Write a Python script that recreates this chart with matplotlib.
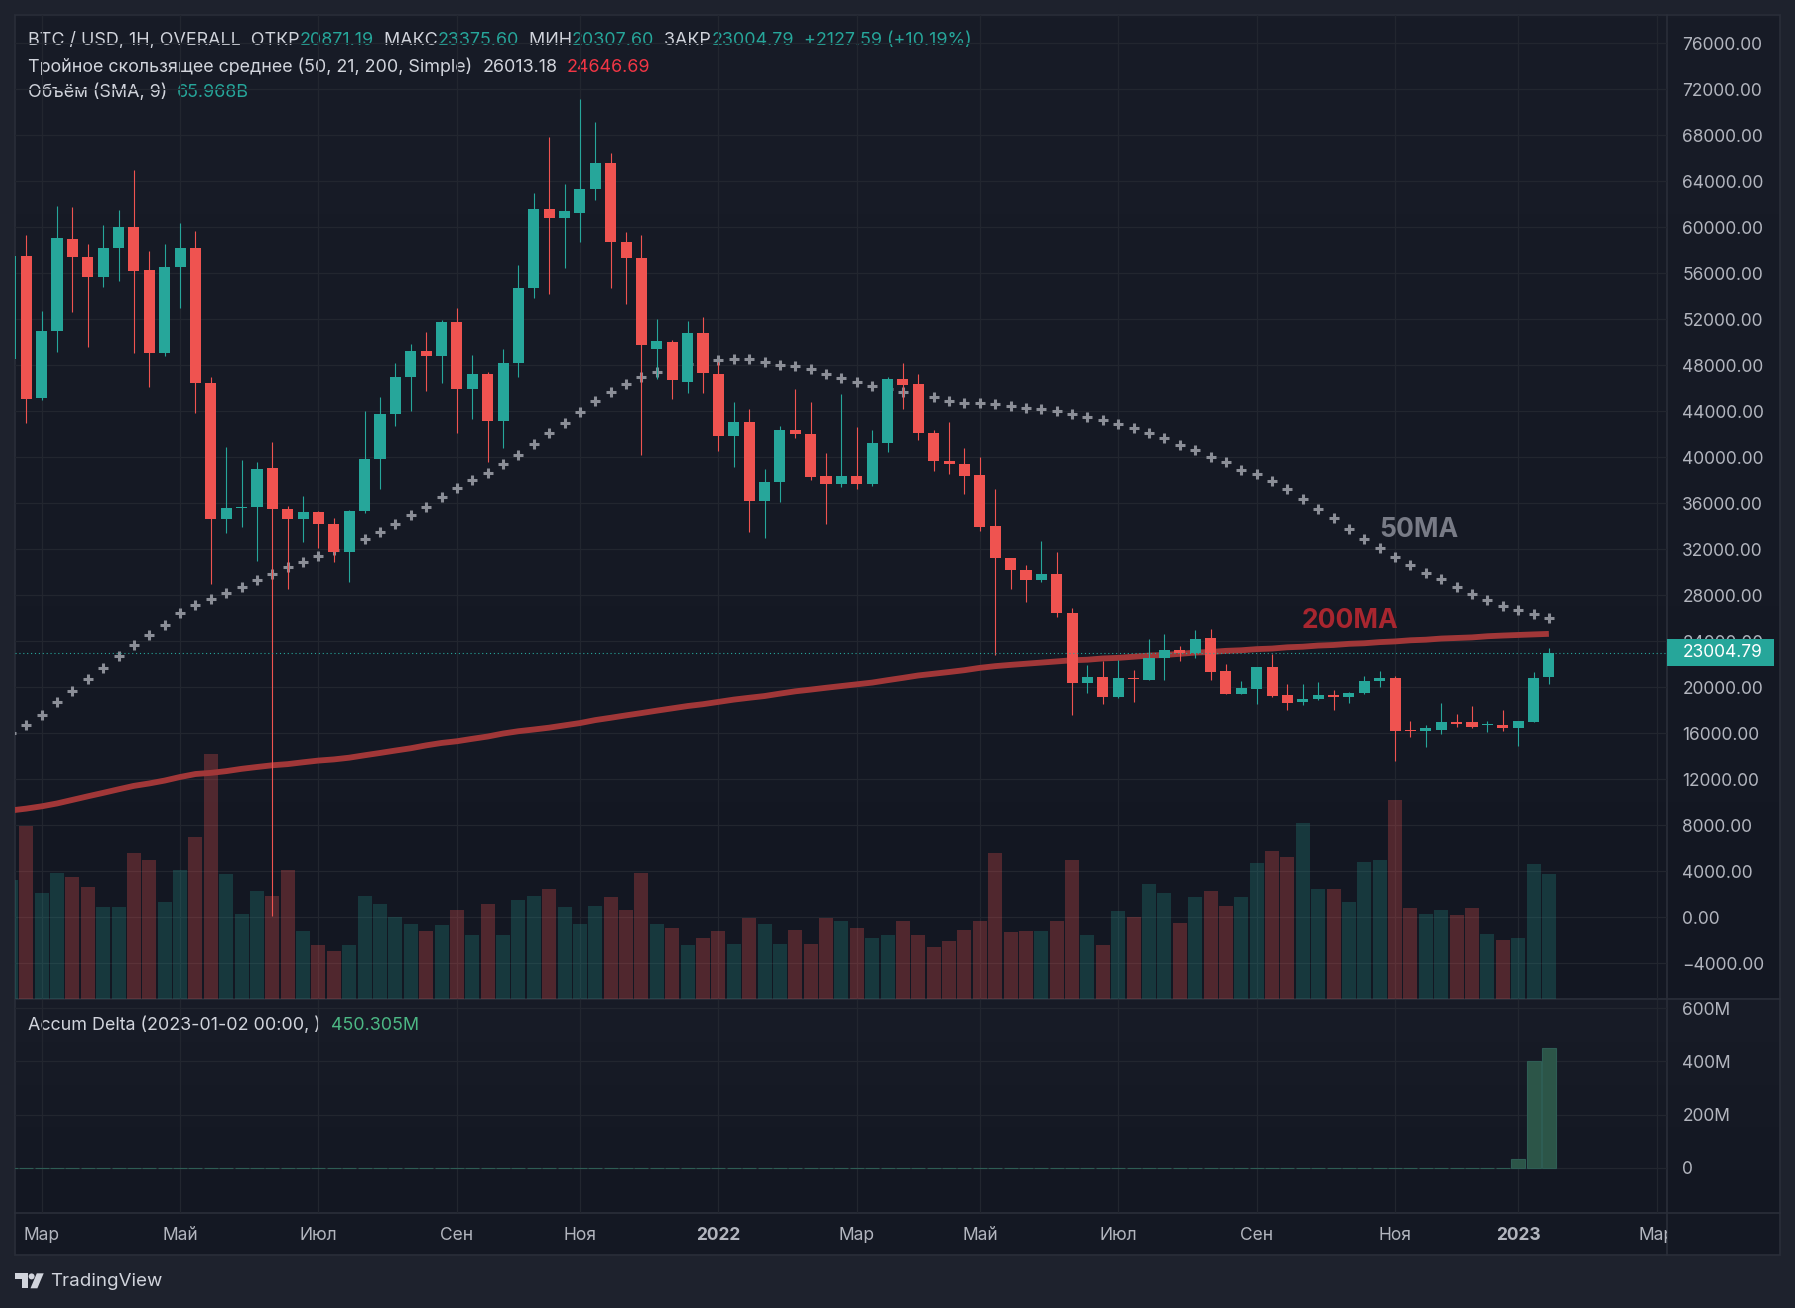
import numpy as np
import matplotlib
matplotlib.use("Agg")
import matplotlib.pyplot as plt
import matplotlib.transforms as mtrans
from matplotlib.colors import LinearSegmentedColormap
from matplotlib.patches import Rectangle, Polygon, Circle

plt.rcParams["font.family"] = ["Inter", "DejaVu Sans"]

W, H = 1795, 1308   # output size in pixels

# ---- data (weekly candles, BTC/USD overall index) ----
start = np.datetime64("2021-02-15")

opens = [48580, 57510, 45150, 50980, 58990, 57400, 55720, 58220, 60010, 56280,
         49040, 56540, 58220, 46440, 34650, 35610, 35720, 39090, 35520, 34600,
         35260, 34190, 31740, 35310, 39850, 43780, 46950, 49240, 48780, 51790,
         45980, 47250, 43120, 48220, 54700, 61590, 60820, 61230, 63320, 65620,
         58680, 57350, 49390, 50010, 46590, 50820, 47250, 41840, 43070, 36180,
         37810, 42350, 42050, 38370, 37660, 38370, 37710, 41230, 46790, 46380,
         42100, 39700, 39450, 38480, 34040, 31230, 30210, 29340, 29850, 26490,
         20360, 20920, 19140, 20770, 20620, 22510, 23270, 22970, 24290, 21440,
         19450, 19850, 21790, 19340, 18680, 18940, 19340, 19140, 19500, 20520,
         20820, 16230, 16180, 16330, 17000, 17000, 16740, 16740, 16470, 17000,
         20871.19]
highs = [58300, 59340, 52710, 61840, 61790, 58530, 60210, 61490, 65010, 57970,
         58580, 60360, 59650, 46950, 40920, 39750, 39550, 41330, 35770, 36640,
         35300, 34700, 35420, 44040, 45260, 48220, 49850, 50920, 51950, 52970,
         48880, 47400, 49450, 56690, 62970, 67860, 63780, 71180, 69140, 66490,
         59600, 59340, 52050, 50210, 51840, 52200, 48320, 44800, 44190, 38990,
         42710, 45930, 44800, 40360, 45520, 42660, 42400, 47000, 48220, 47250,
         42400, 43070, 40820, 40010, 37250, 31250, 30670, 32710, 31790, 26890,
         21950, 22300, 22400, 21540, 24180, 24600, 23580, 25010, 25110, 22050,
         20520, 21800, 22910, 20260, 20260, 20470, 19800, 19600, 20980, 21440,
         20980, 17100, 16740, 18630, 17660, 18370, 17100, 18020, 17100, 21340,
         23375.60]
lows = [46900, 43020, 45000, 49190, 52610, 49550, 54850, 55360, 49040, 46080,
        48830, 52970, 43830, 28940, 33430, 33940, 30980, 110, 28580, 32660,
        32150, 30930, 29190, 35160, 37250, 42760, 43990, 45770, 46490, 42100,
        43370, 39550, 40770, 46950, 53880, 54190, 56490, 58680, 62350, 54700,
        53320, 40160, 46790, 45060, 45570, 45570, 40520, 39190, 33480, 32970,
        36080, 41640, 38020, 34240, 37460, 37250, 37510, 40470, 44240, 41540,
        38780, 38530, 36790, 33580, 22810, 28580, 27400, 29190, 26080, 17560,
        19500, 18580, 19040, 18730, 20600, 20670, 22300, 22560, 20670, 19420,
        19420, 18530, 19140, 18070, 18420, 18900, 18020, 18630, 19400, 20060,
        13580, 15720, 14850, 15930, 16590, 16500, 16130, 16180, 14930, 17000,
        20307.60]
closes = [57510, 45110, 50980, 59090, 57400, 55720, 58220, 60010, 56180, 49040,
          56590, 58220, 46440, 34600, 35620, 35720, 38990, 35520, 34600, 35260,
          34190, 31740, 35310, 39850, 43780, 47000, 49240, 48780, 51790, 45980,
          47250, 43120, 48220, 54700, 61590, 60820, 61440, 63320, 65620, 58680,
          57300, 49800, 50110, 46690, 50820, 47300, 41840, 43070, 36180, 37860,
          42350, 42000, 38270, 37660, 38370, 37710, 41230, 46790, 46330, 42100,
          39650, 39390, 38370, 33940, 31230, 30160, 29340, 29850, 26490, 20360,
          20920, 19140, 20770, 20700, 22560, 23270, 22970, 24190, 21330, 19450,
          19960, 21790, 19240, 18630, 18990, 19340, 19140, 19500, 20570, 20820,
          16230, 16180, 16440, 17000, 16840, 16540, 16840, 16490, 17080, 20810,
          23004.79]
volume_b = [89.4, 130.1, 79.7, 94.8, 91.2, 84.2, 69.2, 68.7, 109.4, 104.0,
            72.3, 96.5, 121.3, 184.4, 93.9, 63.8, 81.1, 77.5, 97.0, 51.0,
            40.4, 35.6, 40.4, 77.5, 70.9, 61.7, 56.3, 50.6, 55.0, 66.9,
            48.0, 71.4, 48.0, 74.5, 77.5, 82.1, 69.2, 56.3, 70.0, 76.2,
            66.9, 94.8, 56.3, 52.8, 40.4, 45.3, 50.6, 41.3, 60.3, 56.3,
            41.3, 51.9, 41.3, 60.3, 58.6, 53.2, 45.8, 48.0, 58.1, 48.0,
            39.1, 43.5, 51.9, 58.6, 109.4, 49.7, 50.6, 50.6, 58.1, 104.5,
            47.5, 40.0, 65.6, 61.7, 86.0, 79.7, 57.2, 76.2, 81.1, 70.0,
            76.2, 102.3, 110.7, 106.7, 132.3, 82.1, 82.1, 72.3, 103.1, 104.0,
            149.1, 67.8, 63.4, 66.9, 62.5, 67.8, 48.9, 44.4, 45.3, 100.9,
            93.61]
ma50 = [16030, 16690, 17560, 18680, 19650, 20720, 21690, 22710, 23680, 24550,
        25420, 26440, 27150, 27660, 28170, 28730, 29290, 29850, 30420, 30870,
        31380, 31950, 32410, 32920, 33480, 34190, 34960, 35720, 36540, 37300,
        38020, 38630, 39390, 40160, 41130, 42100, 42970, 43930, 44900, 45670,
        46380, 47000, 47460, 47810, 48120, 48320, 48420, 48530, 48530, 48270,
        48020, 47910, 47660, 47250, 46890, 46540, 46180, 45930, 45670, 45410,
        45260, 44900, 44700, 44700, 44650, 44450, 44290, 44190, 43990, 43730,
        43480, 43220, 42860, 42510, 42100, 41690, 41080, 40620, 40010, 39550,
        38940, 38530, 37910, 37250, 36380, 35520, 34750, 33780, 32920, 32100,
        31330, 30620, 29910, 29400, 28730, 28120, 27610, 27050, 26740, 26390,
        26013.18]
ma200 = [9290, 9450, 9650, 9900, 10210, 10520, 10820, 11130, 11430, 11640,
         11890, 12200, 12460, 12560, 12710, 12910, 13070, 13220, 13320, 13480,
         13630, 13730, 13880, 14090, 14290, 14500, 14700, 14950, 15160, 15310,
         15520, 15720, 15980, 16180, 16330, 16490, 16690, 16890, 17150, 17350,
         17560, 17760, 17970, 18170, 18370, 18530, 18730, 18930, 19090, 19240,
         19450, 19650, 19800, 19960, 20110, 20260, 20410, 20620, 20820, 21030,
         21180, 21330, 21490, 21690, 21840, 21950, 22050, 22150, 22250, 22350,
         22400, 22510, 22560, 22660, 22760, 22810, 22910, 23020, 23070, 23170,
         23220, 23320, 23370, 23480, 23530, 23630, 23680, 23780, 23830, 23930,
         23990, 24090, 24140, 24240, 24290, 24340, 24440, 24500, 24550, 24600,
         24646.69]
accum_delta_m = [0.0] * 98 + [33.0, 400.0, 450.305]
change_abs, change_pct = 2127.59, 10.19   # vs. previous close, as shown in the legend

month_names = {3: "Мар", 5: "Май", 7: "Июл", 9: "Сен", 11: "Ноя"}
price_ticks = list(range(-4000, 76001, 4000))
delta_ticks = [0, 200, 400, 600]
delta_tick_labels = ["0", "200M", "400M", "600M"]

# ---- style ----
UP, DN = "#26a69a", "#ef5350"
TXT, AX_TXT = "#d1d4dc", "#b2b5be"
GRID, SEP = "#22262f", "#2a2e39"
OUTER = "#1e222d"
VOL_TOP = 740.4          # volume units filling the whole price pane height
N_FUTURE = 108

opens, highs, lows, closes = map(np.array, (opens, highs, lows, closes))
n = len(closes)
idx = np.arange(n)
up = closes >= opens

fig = plt.figure(figsize=(W / 100, H / 100), dpi=100)
fig.patch.set_facecolor(OUTER)


def rect(x0, y0, x1, y1):
    return [x0 / W, 1 - y1 / H, (x1 - x0) / W, (y1 - y0) / H]


# background / frame
bg = fig.add_axes([0, 0, 1, 1], zorder=-5)
bg.axis("off")
grad = np.linspace(0, 1, 256).reshape(-1, 1)
cm = LinearSegmentedColormap.from_list("tvbg", ["#181c27", "#131722"])
bg.imshow(grad, extent=(15, 1780, 998.5, 15), cmap=cm, aspect="auto")
bg.imshow(grad, extent=(15, 1780, 1213, 999), cmap=cm, aspect="auto")
bg.add_patch(Rectangle((15, 1213), 1765, 42, fc="#141823", ec="none"))
bg.add_patch(Rectangle((15, 15), 1765, 1240, fc="none", ec=SEP, lw=1.2))
bg.plot([1667, 1667], [15, 1255], color=SEP, lw=1.2)
bg.plot([15, 1780], [998.8, 998.8], color=SEP, lw=1.2)
bg.plot([15, 1780], [1213, 1213], color=SEP, lw=1.2)
bg.set_xlim(0, W)
bg.set_ylim(H, 0)

# tick positions: first weekly candle of every second month
dates = start + np.arange(N_FUTURE) * np.timedelta64(7, "D")
months = dates.astype("datetime64[M]")
tick_pos, tick_lab, tick_bold = [], [], []
for i in range(1, N_FUTURE):
    if months[i] != months[i - 1]:
        m = int(months[i].astype(int) % 12) + 1
        if m == 1:
            tick_pos.append(i)
            tick_lab.append(str(months[i].astype("datetime64[Y]")))
            tick_bold.append(True)
        elif m in month_names:
            tick_pos.append(i)
            tick_lab.append(month_names[m])
            tick_bold.append(False)

XL = (0.267, 107.68)

# ---- price pane ----
ax = fig.add_axes(rect(15, 15, 1667, 998.5), zorder=2)
ax.patch.set_visible(False)
ax.set_axisbelow(True)
ax.grid(True, color=GRID, lw=0.9)
for s in ax.spines.values():
    s.set_visible(False)

vol_tr = mtrans.blended_transform_factory(
    ax.transData, mtrans.Affine2D().scale(1, 1 / VOL_TOP) + ax.transAxes)
vcol = [(0.149, 0.651, 0.604, 0.23) if u else (0.937, 0.325, 0.314, 0.28) for u in up]
ax.bar(idx, volume_b, width=0.91, color=vcol, transform=vol_tr, zorder=1)

ax.plot(idx, ma200, color="#a13738", lw=4.2, solid_capstyle="butt", zorder=2)
ax.plot(idx, ma50, ls="none", marker="+", ms=7, mew=2.2, color="#8b8e97", zorder=2.1)

ccol = np.where(up, UP, DN)
ax.vlines(idx, lows, highs, colors=ccol, lw=0.8, zorder=3)
body = np.maximum(np.abs(closes - opens), 110)
ax.bar(idx, body, bottom=np.minimum(opens, closes), width=0.72, color=ccol, zorder=3.1)

last = closes[-1]
ax.axhline(last, color=UP, lw=0.8, ls=(0, (1, 2.5)), zorder=4)

ax.text(91.55, 33700, "50MA", color="#787b86", fontsize=19, fontweight="bold",
        ha="center", va="center", zorder=4)
ax.text(87.06, 25800, "200MA", color="#a8262f", fontsize=19, fontweight="bold",
        ha="center", va="center", zorder=4)

ax.set_xlim(*XL)
ax.set_ylim(-7061, 78463)
ax.set_xticks(tick_pos)
ax.set_yticks(price_ticks)
ax.yaxis.set_major_formatter(plt.FuncFormatter(lambda v, _: f"{v:.2f}".replace("-", "\u2212")))
ax.yaxis.tick_right()
ax.tick_params(axis="x", length=0, labelbottom=False)
ax.tick_params(axis="y", length=0, pad=11, labelsize=12.5, labelcolor=AX_TXT)

# last price label on the scale
lbl_tr = mtrans.blended_transform_factory(ax.transAxes, ax.transData)
ax.add_patch(Rectangle((1.0, last - 1170), 107 / 1652, 2340, transform=lbl_tr,
                       fc=UP, ec="none", clip_on=False, zorder=10))
ax.text(1.0 + 16 / 1652, last, f"{last:.2f}", transform=lbl_tr, color="white",
        fontsize=12.5, va="center", ha="left", clip_on=False, zorder=11)

# ---- accum delta pane ----
axd = fig.add_axes(rect(15, 999.5, 1667, 1213), zorder=2)
axd.patch.set_visible(False)
axd.set_axisbelow(True)
axd.grid(True, color=GRID, lw=0.9)
for s in axd.spines.values():
    s.set_visible(False)
axd.bar(idx, accum_delta_m, width=0.91, color="#2c5548", edgecolor="#2e5d54", lw=0.8, zorder=2)
axd.set_xlim(*XL)
axd.set_ylim(-171, 633.5)
axd.set_xticks(tick_pos)
axd.set_yticks(delta_ticks)
axd.set_yticklabels(delta_tick_labels)
axd.yaxis.tick_right()
axd.tick_params(axis="x", length=0, labelbottom=False)
axd.tick_params(axis="y", length=0, pad=11, labelsize=12.5, labelcolor=AX_TXT)

# ---- time scale ----
axt = fig.add_axes(rect(15, 1213, 1667, 1255), zorder=2)
axt.axis("off")
axt.set_xlim(*XL)
axt.set_ylim(0, 1)
for p, lab, b in zip(tick_pos, tick_lab, tick_bold):
    axt.text(p, 0.47, lab, ha="center", va="center", fontsize=12.5,
             color=AX_TXT, fontweight="bold" if b else "normal", clip_on=True)


# ---- legends ----
def chain(x, y, parts, size):
    t = bg.text(x, y, parts[0][0], color=parts[0][1], fontsize=size, va="center", ha="left")
    for s, c in parts[1:]:
        t = bg.annotate(s, xy=(1, 0), xycoords=t, color=c, fontsize=size, va="bottom", ha="left")


hdr = 12.9
chain(28, 40.5, [("BTC / USD, 1H, OVERALL  ОТКР", TXT), (f"{opens[-1]:.2f}", UP),
                 ("  МАКС", TXT), (f"{highs[-1]:.2f}", UP),
                 ("  МИН", TXT), (f"{lows[-1]:.2f}", UP),
                 ("  ЗАКР", TXT), (f"{last:.2f}", UP),
                 (f"  +{change_abs:.2f} (+{change_pct:.2f}%)", UP)], hdr)
chain(28, 66.5, [("Тройное скользящее среднее (50, 21, 200, Simple)  ", TXT),
                 (f"{ma50[-1]:.2f}", TXT), ("  ", TXT), (f"{ma200[-1]:.2f}", "#f23645")], hdr)
chain(28, 92.5, [("Объём (SMA, 9)  ", TXT), (f"{np.mean(volume_b[-9:]):.3f}B", UP)], hdr)
chain(28, 1025, [("Accum Delta (2023-01-02 00:00, )  ", TXT),
                 (f"{accum_delta_m[-1]:.3f}M", "#4cb784")], hdr)

# ---- TradingView mark ----
logo = "#d1d4dc"
bg.add_patch(Polygon([(15, 1273.3), (27.5, 1273.3), (27.5, 1288.3), (21.5, 1288.3),
                      (21.5, 1279.3), (15, 1279.3)], closed=True, fc=logo, ec="none"))
bg.add_patch(Circle((31.6, 1276.4), 3.0, fc=logo, ec="none"))
bg.add_patch(Polygon([(36.8, 1273.3), (43.7, 1273.3), (37.4, 1288.3), (30.5, 1288.3)],
                     closed=True, fc=logo, ec="none"))
bg.text(50, 1282, "TradingView", color=logo, fontsize=13.5, va="center", ha="left")

fig.savefig("out.png", dpi=100, facecolor=OUTER)
